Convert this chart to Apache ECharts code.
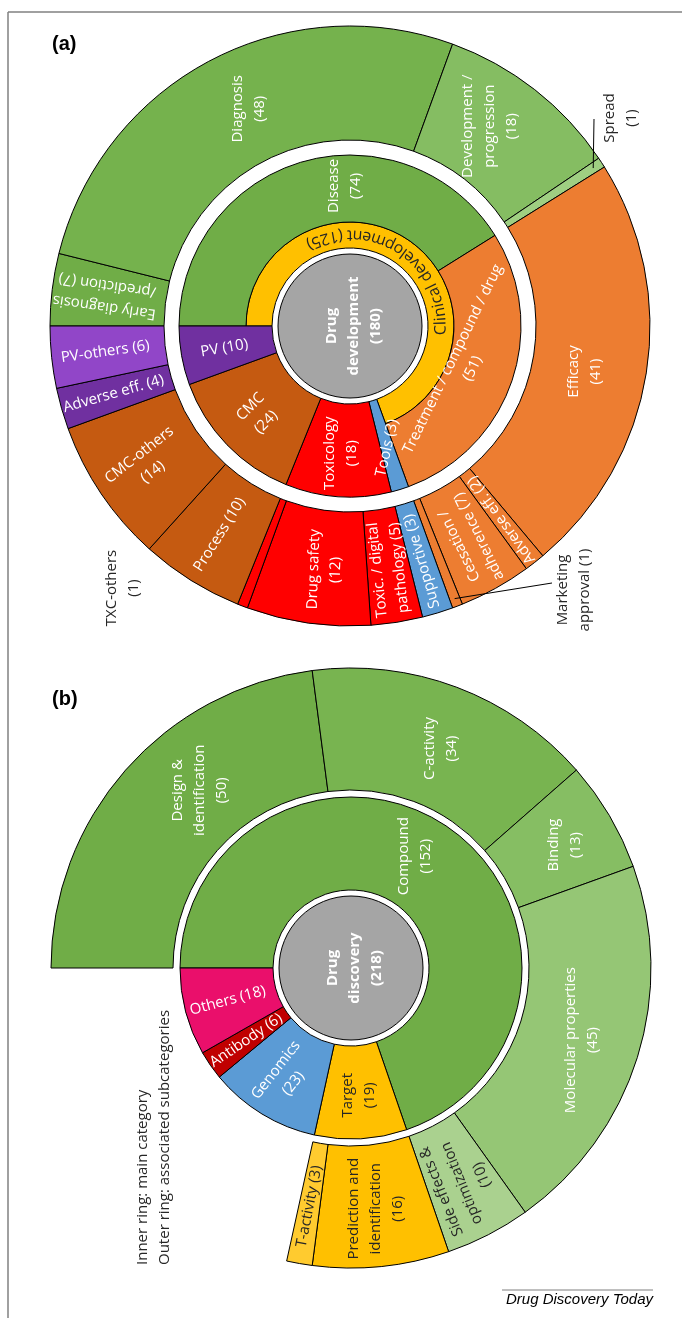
<!DOCTYPE html>
<html>
<head>
<meta charset="utf-8">
<title>Drug development / drug discovery sunbursts</title>
<script src="https://cdn.jsdelivr.net/npm/echarts@6/dist/echarts.min.js"></script>
<style>
  html, body { margin: 0; padding: 0; background: #fff; }
  #chart { width: 682px; height: 1318px; }
</style>
</head>
<body>
<div id="chart"></div>
<script>
// ---- (a) Drug development ----
const devTotal = 180
const devClinical = 125 // Clinical development = Disease + Treatment
const devMainNames = ['Disease', 'Treatment / compound / drug', 'Tools', 'Toxicology', 'CMC', 'PV']
const devMainValues = [74, 51, 3, 18, 24, 10]
const devSubNames = ['Early diagnosis\n/prediction', 'Diagnosis', 'Development /\nprogression', 'Spread',
  'Efficacy', 'Adverse eff.', 'Cessation /\nadherence', 'Marketing\napproval',
  'Supportive', 'Toxic. / digital\npathology', 'Drug safety', 'TXC-others',
  'Process', 'CMC-others', 'Adverse eff.', 'PV-others']
const devSubValues = [7, 48, 18, 1, 41, 2, 7, 1, 3, 5, 12, 1, 10, 14, 4, 6]

// ---- (b) Drug discovery ----
const discTotal = 218
const discMainNames = ['Compound', 'Target', 'Genomics', 'Antibody', 'Others']
const discMainValues = [152, 19, 23, 6, 18]
const discSubNames = ['Design &\nidentification', 'C-activity', 'Binding', 'Molecular properties',
  'Side effects &\noptimization', 'Prediction and\nidentification', 'T-activity']
const discSubValues = [50, 34, 13, 45, 10, 16, 3]

// ---- styles ----
const FONT = '"Open Sans", sans-serif'
const WHITE = '#ffffff'
const DARK = '#262626'
const GREY = '#a5a5a5'

const devMainColors = ['#70ad47', '#ed7d31', '#5b9bd5', '#ff0000', '#c55a11', '#7030a0']
const devMainRot = [90, 64, 77, 90, 45, 10]
const devMainSame = [0, 0, 1, 0, 0, 1]
const devMainShift = [[33, -5], [-20, -8]]
const devSubColors = ['#70ad47', '#75b24d', '#85bd62', '#9fcf82', '#ed7d31', '#ed7d31', '#ed7d31', '#ed7d31',
  '#5b9bd5', '#ff0000', '#ff0000', '#ff0000', '#c55a11', '#c55a11', '#7030a0', '#9146c8']
const devSubRot = [172, 90, 90, null, 90, 126, 116, null, 106, 96, 88, null, 58, 38, 16, 8]
const devSubSame = [1, 0, 0, 0, 0, 1, 1, 0, 1, 1, 0, 0, 1, 0, 1, 1]
const devSubShift = [null, [14, 0], [-12, -6], null, [-8, 7], null, null, null, null, null, [9, 0]]

const discMainColors = ['#70ad47', '#ffc000', '#5b9bd5', '#c00000', '#ea0f6b']
const discMainRot = [90, 90, 52, 34, 15]
const discMainSame = [0, 0, 0, 1, 1]
const discMainDark = [0, 1, 0, 0, 0]
const discMainShift = [[-10, -8]]
const discSubColors = ['#70ad47', '#78b450', '#86be63', '#95c675', '#aad18f', '#ffc000', '#ffcb2f']
const discSubRot = [90, 90, 90, 90, 112, 90, 79]
const discSubSame = [0, 0, 0, 0, 0, 0, 1]
const discSubDark = [0, 0, 0, 0, 1, 1, 1]
const discSubShift = [[31, -18], [4, 7], [5, 0]]

const devC = [350, 326]
const discC = [351, 968]

const filler = v => ({
  name: '', value: v,
  itemStyle: { color: 'rgba(0,0,0,0)', borderWidth: 0 },
  label: { show: false }
})

function ring(names, values, colors, rot, same, dark) {
  return names.map((name, i) => ({
    name,
    value: values[i],
    itemStyle: { color: colors[i] },
    label: rot[i] == null ? { show: false } : {
      rotate: rot[i],
      color: dark && dark[i] ? DARK : WHITE,
      formatter: name + (same[i] ? ' ' : '\n') + '(' + values[i] + ')'
    }
  }))
}

// shifts are given on the page; labelLayout moves a label in its own rotated frame
function pie(center, radius, data, shifts, rots) {
  return {
    type: 'pie',
    center,
    radius,
    startAngle: 180,
    clockwise: true,
    silent: true,
    avoidLabelOverlap: false,
    animation: false,
    itemStyle: { borderColor: '#000', borderWidth: 1 },
    label: { position: 'inside', fontFamily: FONT, fontSize: 15, lineHeight: 22, color: WHITE },
    labelLine: { show: false },
    emphasis: { disabled: true },
    labelLayout: p => {
      const i = p.dataIndex
      const s = shifts && shifts[i]
      if (!s) return {}
      const r = (rots[i] || 0) * Math.PI / 180
      return {
        dx: s[0] * Math.cos(r) - s[1] * Math.sin(r),
        dy: s[0] * Math.sin(r) + s[1] * Math.cos(r)
      }
    },
    data
  }
}

function centerPie(center, text, value) {
  const s = pie(center, [0, 72], [{ name: text, value, itemStyle: { color: GREY } }], [[4, 0]], [90])
  s.label = {
    position: 'center', rotate: 90, color: WHITE, fontFamily: FONT, fontSize: 15,
    fontWeight: 'bold', lineHeight: 22, formatter: text + '\n(' + value + ')'
  }
  return s
}

// angle (deg, maths convention) of a slice's middle, from the data
function midAngle(values, idx, total) {
  let before = 0
  for (let i = 0; i < idx; i++) before += values[i]
  return 180 - (before + values[idx] / 2) / total * 360
}
function polar(c, r, deg) {
  const t = deg * Math.PI / 180
  return [c[0] + r * Math.cos(t), c[1] - r * Math.sin(t)]
}

const clinicalRest = devTotal - devClinical
const discSubRest = discTotal - discSubValues.reduce((a, b) => a + b, 0)

const series = [
  centerPie(devC, 'Drug\ndevelopment', devTotal),
  pie(devC, [78, 104], [{ name: 'Clinical development', value: devClinical, itemStyle: { color: '#ffc000' }, label: { show: false } }, filler(clinicalRest)]),
  pie(devC, [104, 171], ring(devMainNames.slice(0, 2), devMainValues.slice(0, 2), devMainColors, devMainRot, devMainSame).concat([filler(clinicalRest)]), devMainShift, devMainRot),
  pie(devC, [78, 171], [filler(devClinical)].concat(ring(devMainNames.slice(2), devMainValues.slice(2), devMainColors.slice(2), devMainRot.slice(2), devMainSame.slice(2)))),
  pie(devC, [186, 300], ring(devSubNames, devSubValues, devSubColors, devSubRot, devSubSame), devSubShift, devSubRot),

  centerPie(discC, 'Drug\ndiscovery', discTotal),
  pie(discC, [78, 171], ring(discMainNames, discMainValues, discMainColors, discMainRot, discMainSame, discMainDark), discMainShift, discMainRot),
  pie(discC, [178, 300], ring(discSubNames, discSubValues, discSubColors, discSubRot, discSubSame, discSubDark).concat([filler(discSubRest)]), discSubShift, discSubRot)
]

// curved label on the yellow ring, read anticlockwise with tops toward the centre
const ARC_FONT = '16px "Open Sans"'
const ctx = document.createElement('canvas').getContext('2d')
ctx.font = ARC_FONT
const arcText = 'Clinical development (' + devClinical + ')'
const chars = Array.from(arcText)
const widths = chars.map(ch => ctx.measureText(ch).width)
const arcLen = widths.reduce((a, b) => a + b, 0)
const arcR = 91
const arcMid = (180 - devClinical / devTotal * 180 + 1) * Math.PI / 180
let run = 0
const arcGlyphs = chars.map((ch, i) => {
  const t = arcMid - arcLen / 2 / arcR + (run + widths[i] / 2) / arcR
  run += widths[i]
  return {
    type: 'text', silent: true, z: 100,
    x: devC[0] + arcR * Math.cos(t), y: devC[1] - arcR * Math.sin(t),
    rotation: t + Math.PI / 2,
    style: { text: ch, fill: DARK, font: ARC_FONT, align: 'center', verticalAlign: 'middle', textAlign: 'center', textVerticalAlign: 'middle' }
  }
})

function vText(x, y, text, opts) {
  return {
    type: 'text', silent: true, z: 100, x, y, rotation: Math.PI / 2,
    style: Object.assign({
      text, fill: DARK, font: '15px "Open Sans"', lineHeight: 22,
      align: 'center', verticalAlign: 'middle', textAlign: 'center', textVerticalAlign: 'middle'
    }, opts || {})
  }
}

const spreadIdx = devSubNames.indexOf('Spread')
const marketIdx = devSubNames.indexOf('Marketing\napproval')
const spreadPt = polar(devC, 290, midAngle(devSubValues, spreadIdx, devTotal))
const marketPt = polar(devC, 292, midAngle(devSubValues, marketIdx, devTotal))

const lineStyle = { stroke: '#000', lineWidth: 1 }
const frameStyle = { stroke: '#808080', lineWidth: 1.5 }

const graphic = [
  { type: 'line', silent: true, z: 100, shape: { x1: 8, y1: 12, x2: 8, y2: 1318 }, style: frameStyle },
  { type: 'line', silent: true, z: 100, shape: { x1: 8, y1: 12, x2: 682, y2: 12 }, style: frameStyle },
  { type: 'text', silent: true, z: 100, x: 52, y: 34, style: { text: '(a)', fill: '#000', font: 'bold 20px "Liberation Sans", Arial, sans-serif' } },
  { type: 'text', silent: true, z: 100, x: 52, y: 689, style: { text: '(b)', fill: '#000', font: 'bold 20px "Liberation Sans", Arial, sans-serif' } },
  vText(621, 118, 'Spread\n(' + devSubValues[spreadIdx] + ')'),
  { type: 'line', silent: true, z: 100, shape: { x1: 594, y1: 119, x2: spreadPt[0], y2: spreadPt[1] }, style: lineStyle },
  vText(574, 590, 'Marketing\napproval (' + devSubValues[marketIdx] + ')'),
  { type: 'line', silent: true, z: 100, shape: { x1: 552, y1: 583, x2: marketPt[0], y2: marketPt[1] }, style: lineStyle },
  vText(123, 588, 'TXC-others\n(' + devSubValues[devSubNames.indexOf('TXC-others')] + ')'),
  vText(154, 1265, 'Inner ring: main category\nOuter ring: associated subcategories', { align: 'left', textAlign: 'left' }),
  { type: 'line', silent: true, z: 100, shape: { x1: 502, y1: 1290, x2: 653, y2: 1290 }, style: { stroke: '#808080', lineWidth: 1.2 } },
  { type: 'text', silent: true, z: 100, x: 653, y: 1307, style: { text: 'Drug Discovery Today', fill: '#000', font: 'italic 15px "Liberation Sans", Arial, sans-serif', align: 'right', textAlign: 'right', verticalAlign: 'bottom', textVerticalAlign: 'bottom' } }
].concat(arcGlyphs)

const chart = echarts.init(document.getElementById('chart'))
chart.setOption({
  animation: false,
  backgroundColor: '#fff',
  series,
  graphic: { elements: graphic }
})
</script>
</body>
</html>
